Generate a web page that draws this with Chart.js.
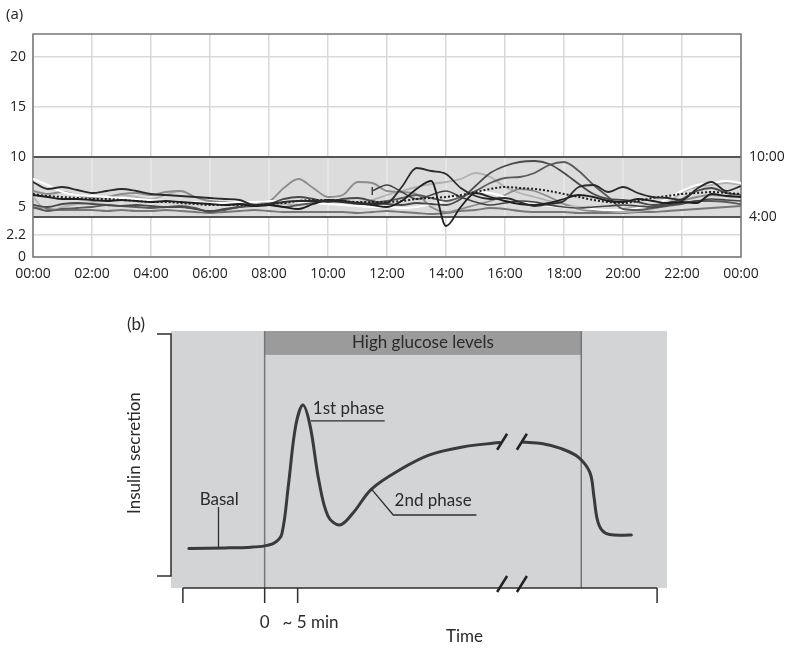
<!DOCTYPE html>
<html>
<head>
<meta charset="utf-8">
<script src="https://cdn.jsdelivr.net/npm/chart.js@4.4.1/dist/chart.umd.min.js"></script>
<style>
  body{margin:0;background:#fff;}
  #wrap{position:relative;width:791px;height:649px;}
  canvas{position:absolute;left:0;}
  #cgm{top:0;}
  #insulin{top:290px;}
</style>
</head>
<body>
<div id="wrap">
  <canvas id="cgm" width="791" height="290"></canvas>
  <canvas id="insulin" width="791" height="359"></canvas>
</div>
<script>
// (a) glucose traces, one reading every 30 min over 24 h
const hours = [0,0.5,1,1.5,2,2.5,3,3.5,4,4.5,5,5.5,6,6.5,7,7.5,8,8.5,9,9.5,10,10.5,11,11.5,
  12,12.5,13,13.5,14,14.5,15,15.5,16,16.5,17,17.5,18,18.5,19,19.5,20,20.5,21,21.5,22,22.5,23,23.5,24];
const timeTicks = [0,2,4,6,8,10,12,14,16,18,20,22,24];
const glucoseTicks = [0,2.2,5,10,15,20];
const rangeLow = 4, rangeHigh = 10;
const rangeLabels = ['4:00','10:00'];

const blackA = [7.5,6.8,7.0,6.7,6.4,6.6,6.8,6.6, 6.3,6.2,6.1,6.0,5.9,5.8,5.7,5.2,
  5.3,5.5,5.6,5.6,5.6,5.5,5.4,5.3, 5.4,7.0,8.9,8.6,8.3,6.9,6.1,5.8,
  5.9,5.5,5.1,5.3,5.6,7.0,7.2,6.5, 7.0,6.4,6.0,5.9,5.7,6.8,7.5,6.6, 7.1];
const blackDip = [6.2,6.0,5.8,5.8,5.7,5.6,5.7,5.6, 5.5,5.6,5.5,5.4,5.3,5.2,5.3,5.1,
  5.2,5.0,4.8,5.3,5.7,5.6,5.4,5.2, 5.0,5.6,6.8,7.6,3.1,5.0,6.4,6.0,
  5.6,5.3,5.2,5.4,5.8,6.2,6.0,5.6, 5.5,5.8,5.6,5.4,5.5,5.4,6.3,6.1, 6.0];
const dotted = [6.3,6.1,6.0,5.9,5.8,5.8,5.7,5.6, 5.5,5.5,5.4,5.3,5.2,5.2,5.2,5.2,
  5.3,5.4,5.6,5.7,5.7,5.6,5.5,5.5, 5.5,5.6,5.8,5.9,6.0,6.2,6.5,6.8,
  7.0,6.9,6.8,6.6,6.3,6.0,5.7,5.5, 5.4,5.6,5.9,6.1,6.3,6.4,6.5,6.4, 6.3];
const white = [7.8,7.2,6.5,6.2,6.1,6.0,5.9,5.8, 5.7,5.6,5.5,5.5,5.4,5.4,5.5,5.5,
  5.6,5.6,5.5,5.4,5.3,5.2,5.1,5.0, 5.0,4.9,5.0,5.3,5.6,6.2,6.5,6.4,
  6.0,5.5,5.3,5.1,5.0,4.9,4.8,4.7, 4.7,4.9,5.2,5.8,6.6,7.2,7.4,7.6, 7.4];
const midGrey = [6.6,6.3,6.5,6.2,5.9,6.0,6.3,6.4, 6.2,6.5,6.6,6.0,5.6,5.5,5.4,5.5,
  5.6,6.9,7.8,6.9,6.0,6.2,7.5,7.4, 6.6,6.5,6.3,5.0,4.5,4.8,5.2,5.6,
  6.2,6.8,6.6,6.0,5.3,4.8,4.6,4.6, 4.8,4.9,5.1,5.3,5.6,6.0,6.2,6.1, 6.0];
const lightGrey = [6.0,4.6,5.0,5.3,5.5,5.8,6.2,6.0, 5.8,6.2,6.6,6.0,5.5,5.3,5.2,5.4,
  5.5,5.3,5.2,5.6,5.7,5.6,5.5,5.7, 6.2,6.6,7.0,7.3,7.5,7.8,8.4,8.0,
  7.0,6.4,6.0,5.6,5.3,5.0,4.8,4.6, 4.5,4.6,4.8,5.3,6.5,7.0,7.2,7.4, 7.2];
const darkPeak = [5.2,5.0,5.3,5.4,5.3,5.2,5.1,5.2, 5.1,5.0,5.0,4.8,4.6,4.8,5.0,5.2,
  5.3,5.8,6.0,5.8,5.5,5.8,5.9,5.6, 5.3,5.2,5.4,5.3,5.2,5.8,7.1,8.4,
  9.1,9.5,9.6,9.3,8.4,7.3,6.3,5.8, 5.7,5.5,5.2,5.4,5.8,6.6,6.9,6.4, 6.2];
const darkLate = [5.0,4.6,4.8,4.9,5.0,5.2,5.1,5.0, 4.9,5.0,5.1,4.9,4.5,4.7,5.0,5.1,
  5.2,5.0,5.2,5.4,5.6,5.5,5.3,5.4, 5.6,5.9,6.2,5.9,5.6,6.0,6.6,7.4,
  7.9,8.0,8.4,9.2,9.5,8.6,7.2,6.0, 4.8,4.7,4.9,5.1,5.3,5.6,5.6,5.5, 5.3];
const lowGrey = [4.9,4.8,4.7,4.7,4.7,4.6,4.7,4.6, 4.6,4.7,4.6,4.5,4.4,4.5,4.6,4.7,
  4.6,4.5,4.5,4.5,4.5,4.5,4.4,4.5, 4.6,4.5,4.4,4.3,4.4,4.6,4.7,4.9,
  4.8,4.6,4.5,4.5,4.5,4.4,4.4,4.4, 4.4,4.5,4.5,4.6,4.7,4.8,4.9,5.0, 5.1];
const lateStart = [null,null,null,null,null,null,null,null, null,null,null,null,null,null,null,null,
  null,null,null,null,null,null,null,6.6, 7.2,6.5,5.8,6.2,6.6,6.0,5.5,5.2,
  5.4,5.6,5.5,5.2,5.0,4.9,5.0,5.1, 5.2,5.1,5.0,5.2,5.4,5.6,5.8,5.7, 5.6];

function trace(values, color, width, dash){
  let first = values.findIndex(v => v !== null);
  return {
    data: values.map((v,i) => ({x: hours[i], y: v})),
    borderColor: color,
    borderWidth: width,
    borderDash: dash || [],
    cubicInterpolationMode: 'monotone',
    pointRadius: ctx => (first > 0 && ctx.dataIndex === first) ? 4 : 0,
    pointStyle: 'line',
    rotation: 90,
    pointBorderColor: color,
    pointBorderWidth: 1.5
  };
}

const clock = v => String(v % 24).padStart(2,'0') + ':00';

const rangeBand = {
  id: 'rangeBand',
  beforeDatasetsDraw(chart){
    const {ctx, chartArea: a, scales: {x, y}} = chart;
    let top = y.getPixelForValue(rangeHigh), bot = y.getPixelForValue(rangeLow);
    ctx.save();
    ctx.fillStyle = '#dcdcdc';
    ctx.fillRect(a.left, top, a.width, bot - top);
    ctx.strokeStyle = '#e8e8e8';
    ctx.lineWidth = 1.5;
    timeTicks.forEach(t => {
      let px = x.getPixelForValue(t);
      ctx.beginPath(); ctx.moveTo(px, top); ctx.lineTo(px, bot); ctx.stroke();
    });
    ctx.strokeStyle = '#555';
    ctx.lineWidth = 2;
    [top, bot].forEach(py => {
      ctx.beginPath(); ctx.moveTo(a.left, py); ctx.lineTo(a.right, py); ctx.stroke();
    });
    ctx.strokeStyle = '#777';
    ctx.lineWidth = 1.5;
    ctx.strokeRect(a.left, a.top, a.width, a.height);
    ctx.restore();
  },
  afterDraw(chart){
    const {ctx, chartArea: a, scales: {y}} = chart;
    ctx.save();
    ctx.fillStyle = '#222';
    ctx.font = '14px "Open Sans"';
    ctx.textBaseline = 'middle';
    ctx.textAlign = 'left';
    ctx.fillText(rangeLabels[1], a.right + 8, y.getPixelForValue(rangeHigh));
    ctx.fillText(rangeLabels[0], a.right + 8, y.getPixelForValue(rangeLow));
    ctx.font = '15px "Open Sans"';
    ctx.fillText('(a)', 6, 15);
    ctx.restore();
  }
};

new Chart(document.getElementById('cgm'), {
  type: 'line',
  data: {
    datasets: [
      trace(blackA, '#2b2b2b', 1.8),
      trace(blackDip, '#1e1e1e', 1.8),
      trace(dotted, '#222', 2, [2,2]),
      trace(lateStart, '#444', 1.6),
      trace(darkPeak, '#4a4a4a', 1.8),
      trace(darkLate, '#5a5a5a', 1.8),
      trace(white, '#ffffff', 2),
      trace(midGrey, '#8c8c8c', 1.8),
      trace(lightGrey, '#b2b2b2', 1.8),
      trace(lowGrey, '#777', 1.8)
    ]
  },
  options: {
    responsive: false,
    animation: false,
    events: [],
    layout: {padding: {top: 34, right: 50, left: 0, bottom: 0}},
    plugins: {legend: {display: false}, tooltip: {enabled: false}},
    scales: {
      x: {
        type: 'linear', min: 0, max: 24,
        afterBuildTicks: s => { s.ticks = timeTicks.map(v => ({value: v})); },
        afterFit: s => { s.height = 33; },
        grid: {color: '#d9d9d9', lineWidth: 1.5, drawTicks: false},
        border: {display: false},
        ticks: {padding: 9, color: '#222', autoSkip: false, maxRotation: 0,
          font: {family: 'Open Sans', size: 14}, callback: v => clock(v)}
      },
      y: {
        min: 0, max: 22.3,
        afterBuildTicks: s => { s.ticks = glucoseTicks.map(v => ({value: v})); },
        afterFit: s => { s.width = 33; },
        grid: {color: '#d9d9d9', lineWidth: 1.5, drawTicks: false},
        border: {display: false},
        ticks: {padding: 7, color: '#222', autoSkip: false,
          font: {family: 'Open Sans', size: 14}, callback: v => String(v)}
      }
    }
  },
  plugins: [rangeBand]
});

// (b) biphasic insulin secretion, time in minutes after glucose rise
const phaseTime  = [-11.5,-6,-2,0,1.5,2.6,3.6,4.7,5.8,6.9,8.2,9.6,11.4,13.4,16.2,20.5,25,30,35.6];
const phaseLevel = [15.4,15.6,15.9,16.4,17.6,21,40,63,71.2,63,42,28,24.5,29.2,38.5,46,51.8,54.9,56.6];
const lateTime   = [39.1,42,45,47.5,49.3,49.9,50.4,51.1,52.3,55.6];
const lateLevel  = [56.8,56.2,54.2,51,45,36,27,22.6,20.8,20.6];
const glucoseOn = 0, glucoseOff = 48;
const axisTicks = [-12.4, 0, 5, 59.5];
const breakAt = [36.0, 39.0];

const schematic = {
  id: 'schematic',
  beforeDatasetsDraw(chart){
    const {ctx, chartArea: a, scales: {x, y}} = chart;
    ctx.save();
    ctx.fillStyle = '#d3d4d6';
    ctx.fillRect(a.left, a.top, a.width, a.height);
    let x0 = x.getPixelForValue(glucoseOn), x1 = x.getPixelForValue(glucoseOff);
    let bandBot = y.getPixelForValue(90.7);
    ctx.fillStyle = '#9b9b9c';
    ctx.fillRect(x0, a.top, x1 - x0, bandBot - a.top);
    ctx.fillStyle = '#2a2a2a';
    ctx.font = '17px Lato';
    ctx.textAlign = 'center';
    ctx.textBaseline = 'middle';
    ctx.fillText('High glucose levels', x.getPixelForValue(24), (a.top + bandBot) / 2);
    ctx.strokeStyle = '#767676';
    ctx.lineWidth = 1.5;
    [x0, x1].forEach(px => {
      ctx.beginPath(); ctx.moveTo(px, a.top); ctx.lineTo(px, a.bottom); ctx.stroke();
    });
    ctx.restore();
  },
  afterDatasetsDraw(chart){
    const {ctx, chartArea: a, scales: {x, y}} = chart;
    const line = (pts) => {
      ctx.beginPath();
      pts.forEach((p,i) => {
        let px = x.getPixelForValue(p[0]), py = y.getPixelForValue(p[1]);
        i ? ctx.lineTo(px, py) : ctx.moveTo(px, py);
      });
      ctx.stroke();
    };
    ctx.save();
    ctx.strokeStyle = '#2e2e2e';
    ctx.lineWidth = 1.5;
    // time axis and its ticks
    let axisY = y.getPixelForValue(0);
    line([[axisTicks[0], 0], [axisTicks[3], 0]]);
    axisTicks.forEach(t => {
      let px = x.getPixelForValue(t);
      ctx.beginPath(); ctx.moveTo(px, axisY); ctx.lineTo(px, axisY + 15); ctx.stroke();
    });
    // bracket for the secretion axis
    let top = y.getPixelForValue(98.8), bot = y.getPixelForValue(4.7);
    ctx.beginPath();
    ctx.moveTo(a.left - 14, top); ctx.lineTo(a.left, top);
    ctx.lineTo(a.left, bot); ctx.lineTo(a.left - 14, bot);
    ctx.stroke();
    // leader lines
    ctx.lineWidth = 1.3;
    line([[-7.0, 31.5], [-7.0, 15.6]]);
    line([[7.0, 65], [18.2, 65]]);
    line([[16.2, 38.5], [19.5, 28.4], [32.1, 28.4]]);
    // break marks on curve and axis
    ctx.strokeStyle = '#222';
    ctx.lineWidth = 2.5;
    breakAt.forEach(t => {
      let px = x.getPixelForValue(t);
      [y.getPixelForValue(56.9), axisY - 4].forEach(py => {
        ctx.beginPath(); ctx.moveTo(px - 5, py + 8); ctx.lineTo(px + 5, py - 8); ctx.stroke();
      });
    });
    // labels
    ctx.fillStyle = '#2a2a2a';
    ctx.font = '17px Lato';
    ctx.textBaseline = 'middle';
    ctx.textAlign = 'left';
    ctx.fillText('Basal', x.getPixelForValue(-9.85), y.getPixelForValue(34.6));
    ctx.fillText('1st phase', x.getPixelForValue(7.3), y.getPixelForValue(70));
    ctx.fillText('2nd phase', x.getPixelForValue(19.7), y.getPixelForValue(34.2));
    ctx.fillText('~ 5 min', x.getPixelForValue(2.7), axisY + 35);
    ctx.textAlign = 'center';
    ctx.fillText('0', x.getPixelForValue(0), axisY + 35);
    ctx.fillText('Time', x.getPixelForValue(30.3), axisY + 49);
    ctx.fillText('(b)', 136, 35);
    ctx.translate(135, y.getPixelForValue(52.5));
    ctx.rotate(-Math.PI / 2);
    ctx.fillText('Insulin secretion', 0, 0);
    ctx.restore();
  }
};

const curve = (t, v) => ({
  data: t.map((tt,i) => ({x: tt, y: v[i]})),
  borderColor: '#3a3a3a',
  borderWidth: 3,
  pointRadius: 0,
  tension: 0.35,
  borderCapStyle: 'round'
});

new Chart(document.getElementById('insulin'), {
  type: 'line',
  data: {datasets: [curve(phaseTime, phaseLevel), curve(lateTime, lateLevel)]},
  options: {
    responsive: false,
    animation: false,
    events: [],
    layout: {padding: {left: 171, right: 124, top: 41, bottom: 61}},
    plugins: {legend: {display: false}, tooltip: {enabled: false}},
    scales: {
      x: {type: 'linear', min: -14.2, max: 61, display: false},
      y: {min: 0, max: 100, display: false}
    }
  },
  plugins: [schematic]
});
</script>
</body>
</html>
